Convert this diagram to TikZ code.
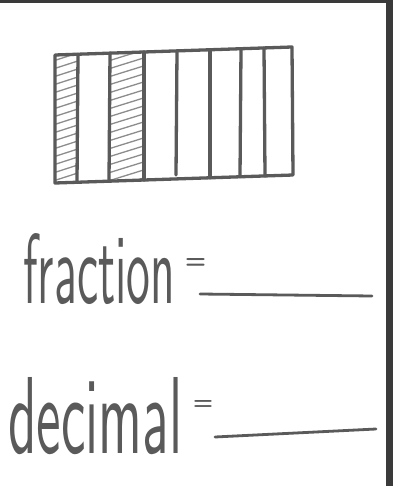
\documentclass[tikz,border=0pt]{standalone}
\usepackage{graphicx}
\definecolor{ink}{HTML}{5A5A5A}
\definecolor{hatch}{HTML}{8C8C8C}
\definecolor{frame}{HTML}{3A3A3A}
\begin{document}
\begin{tikzpicture}[x=1pt,y=-1pt,
  pen/.style={draw=ink,line width=3.3pt,line cap=round,line join=round},
  hatchline/.style={draw=hatch,line width=1.3pt,line cap=round},
  written/.style={inner sep=0pt,text=ink,anchor=base west,font=\sffamily},
  blank/.style={draw=ink,line width=2.8pt,line cap=round}]
\useasboundingbox (0,0) rectangle (393,486);
\fill[white] (0,0) rectangle (393,486);
% page frame (top and right edges)
\fill[frame] (0,0) rectangle (393,3);
\fill[frame] (386,0) rectangle (393,486);
% hatching of the two shaded strips
\begin{scope}
  \clip (55,55) -- (78,54.2) -- (78,182.2) -- (55,183) -- cycle;
  \foreach \y in {62,70,...,200} \draw[hatchline] (50,\y) -- (84,\y-11);
\end{scope}
\begin{scope}
  \clip (110,53.1) -- (144,52) -- (144,180) -- (110,181.1) -- cycle;
  \foreach \y in {62,70,...,200} \draw[hatchline] (105,\y) -- (150,\y-14);
\end{scope}
% outer rectangle
\draw[pen] (55,55) -- (292,47) -- (293,175) -- (55,183) -- cycle;
% dividers
\draw[pen] (78,54.2) -- (77,182.2);
\draw[pen] (110,53.1) -- (109,181.1);
\draw[pen] (144,52) -- (144,180);
\draw[pen] (177,50.9) -- (176,175);
\draw[pen] (210,49.8) -- (210,177.8);
\draw[pen] (241,48.7) -- (240,176.7);
\draw[pen] (264,47.9) -- (265,175.9);
% labels
\node[written] (frac) at (23,303) {\resizebox{152pt}{70pt}{fraction}};
\node[written] (fraceq) at (185,268) {\resizebox{21pt}{10pt}{\bfseries =}};
\draw[blank] (200,294) -- (372,296);
\node[written] (dec) at (8,453) {\resizebox{174pt}{76pt}{decimal}};
\node[written] (deceq) at (193,409) {\resizebox{20pt}{9pt}{\bfseries =}};
\draw[blank] (215,437) -- (376,429);
\end{tikzpicture}
\end{document}
